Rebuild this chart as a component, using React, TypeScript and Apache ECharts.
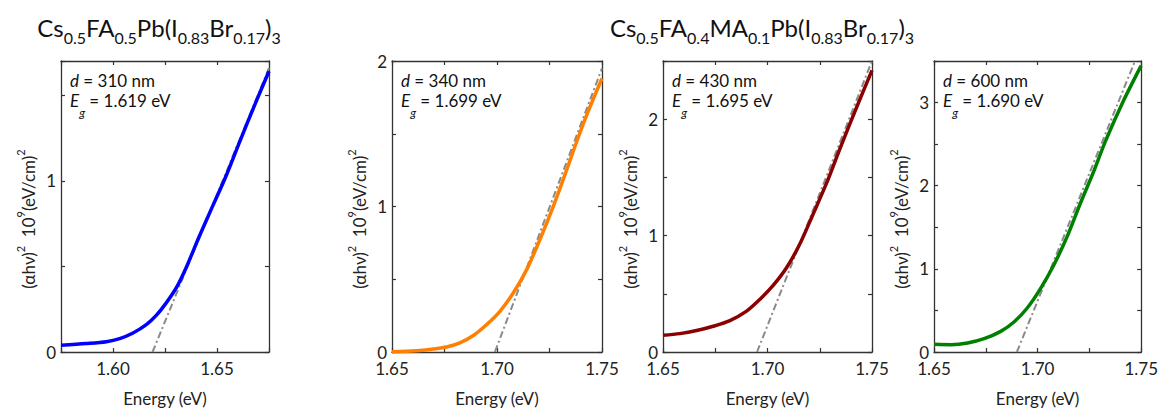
import React, { useEffect, useRef } from "react";
import * as echarts from "echarts";

const FONT = 'Lato, "DejaVu Sans", sans-serif';

// ---- data ----
const p1Energy = [1.575, 1.5872, 1.5968, 1.6032, 1.6096, 1.616, 1.6208, 1.6256, 1.6304, 1.6351, 1.6415, 1.6479, 1.6543, 1.6607, 1.6687, 1.675];
const p1Signal = [0.039, 0.049, 0.06, 0.078, 0.111, 0.16, 0.214, 0.287, 0.374, 0.491, 0.676, 0.852, 1.027, 1.222, 1.46, 1.64];
const p2Energy = [1.65, 1.6616, 1.6696, 1.676, 1.6823, 1.6887, 1.6951, 1.7014, 1.7078, 1.7142, 1.7205, 1.7269, 1.7333, 1.7378, 1.7433, 1.75];
const p2Signal = [0.002, 0.009, 0.021, 0.034, 0.062, 0.113, 0.189, 0.28, 0.407, 0.568, 0.775, 1.005, 1.257, 1.44, 1.65, 1.88];
const p3Energy = [1.65, 1.6581, 1.6661, 1.674, 1.682, 1.69, 1.6963, 1.7027, 1.7091, 1.7154, 1.7218, 1.7282, 1.7346, 1.7427, 1.75];
const p3Signal = [0.144, 0.158, 0.184, 0.221, 0.27, 0.351, 0.451, 0.572, 0.724, 0.925, 1.184, 1.448, 1.744, 2.105, 2.42];
const p4Energy = [1.65, 1.6582, 1.6662, 1.6742, 1.6822, 1.6886, 1.695, 1.7014, 1.7079, 1.7143, 1.7207, 1.7271, 1.7327, 1.7415, 1.75];
const p4Signal = [0.092, 0.088, 0.108, 0.16, 0.248, 0.361, 0.529, 0.762, 1.05, 1.391, 1.792, 2.172, 2.533, 3.025, 3.445];

const fit1Energy = [1.619, 1.675];
const fit1Signal = [0, 1.66];
const fit2Energy = [1.699, 1.75];
const fit2Signal = [0, 1.95];
const fit3Energy = [1.695, 1.75];
const fit3Signal = [0, 2.5];
const fit4Energy = [1.69, 1.747];
const fit4Signal = [0, 3.5];

const xMins = [1.575, 1.65, 1.65, 1.65];
const xMaxs = [1.675, 1.75, 1.75, 1.75];
const yMaxs = [1.7, 2, 2.5, 3.5];
const thickness = ["310", "340", "430", "600"];
const bandGaps = ["1.619", "1.699", "1.695", "1.690"];
const colors = ["#0000ff", "#ff7f00", "#8b0000", "#008000"];

const title1 = [
  ["Cs", "0.5"], ["FA", "0.5"], ["Pb(I", "0.83"], ["Br", "0.17"], [")", "3"],
];
const title2 = [
  ["Cs", "0.5"], ["FA", "0.4"], ["MA", "0.1"], ["Pb(I", "0.83"], ["Br", "0.17"], [")", "3"],
];
const xName = "Energy (eV)";

// ---- layout ----
const grids = [
  { left: 61, width: 208 },
  { left: 392, width: 210 },
  { left: 663, width: 209 },
  { left: 934, width: 208 },
];
const GTOP = 61;
const GH = 291;

function richFormula(parts: string[][]) {
  return parts.map(([n, s]) => `{n|${n}}{s|${s}}`).join("");
}

function buildOption() {
  const energies = [p1Energy, p2Energy, p3Energy, p4Energy];
  const signals = [p1Signal, p2Signal, p3Signal, p4Signal];
  const fitsE = [fit1Energy, fit2Energy, fit3Energy, fit4Energy];
  const fitsS = [fit1Signal, fit2Signal, fit3Signal, fit4Signal];

  const axisLine = { show: true, onZero: false, lineStyle: { color: "#333", width: 1.3 } };
  const axisTick = { show: true, inside: true, length: 4, lineStyle: { color: "#333", width: 1.2 } };

  const xAxes: any[] = [];
  const yAxes: any[] = [];
  const series: any[] = [];
  const graphics: any[] = [];

  grids.forEach((g, i) => {
    const xb = {
      type: "value", gridIndex: i, position: "bottom", min: xMins[i], max: xMaxs[i], interval: 0.025,
      axisLine, axisTick, splitLine: { show: false },
      axisLabel: {
        margin: 10, fontSize: 17, lineHeight: 13, color: "#222", fontFamily: FONT,
        formatter: (v: number) => {
          const k = Math.round(v * 1000);
          return k % 50 === 0 ? (k / 1000).toFixed(2) : "";
        },
      },
      name: xName, nameLocation: "middle", nameGap: 38,
      nameTextStyle: { fontSize: 17, color: "#222", fontFamily: FONT },
    };
    const xt = {
      type: "value", gridIndex: i, position: "top", min: xMins[i], max: xMaxs[i], interval: 0.025,
      axisLine, axisTick, splitLine: { show: false }, axisLabel: { show: false },
    };
    const yl = {
      type: "value", gridIndex: i, position: "left", min: 0, max: yMaxs[i], interval: 0.5,
      axisLine, axisTick, splitLine: { show: false },
      axisLabel: {
        margin: 5, fontSize: 17, lineHeight: 12, color: "#222", fontFamily: FONT,
        formatter: (v: number) => (Math.abs(v - Math.round(v)) < 1e-6 ? String(Math.round(v)) : ""),
      },
    };
    const yr = {
      type: "value", gridIndex: i, position: "right", min: 0, max: yMaxs[i], interval: 0.5,
      axisLine, axisTick, splitLine: { show: false }, axisLabel: { show: false },
    };
    xAxes.push(xb, xt);
    yAxes.push(yl, yr);

    series.push({
      type: "line", xAxisIndex: 2 * i, yAxisIndex: 2 * i, showSymbol: false, symbol: "none",
      data: fitsE[i].map((e, k) => [e, fitsS[i][k]]),
      lineStyle: { color: "#8a8a8a", width: 2, type: [7, 3, 2, 3] }, z: 1, silent: true,
    });
    series.push({
      type: "line", xAxisIndex: 2 * i, yAxisIndex: 2 * i, showSymbol: false, symbol: "none", smooth: 0.3,
      data: energies[i].map((e, k) => [e, signals[i][k]]),
      lineStyle: { color: colors[i], width: 3.5 }, z: 2, silent: true,
    });

    // annotations
    graphics.push({
      type: "text", x: g.left + 9, y: 80, silent: true,
      style: {
        text: `{i|d}{n| = ${thickness[i]} nm}`, verticalAlign: "middle", align: "left",
        rich: {
          i: { fontSize: 17, fontStyle: "italic", fontFamily: FONT, fill: "#111" },
          n: { fontSize: 17, fontFamily: FONT, fill: "#111" },
        },
      },
    });
    graphics.push({
      type: "text", x: g.left + 9, y: 92, silent: true,
      style: {
        text: `{i|E}{s|g}{n| = ${bandGaps[i]} eV}`, verticalAlign: "top", align: "left",
        rich: {
          i: { fontSize: 17, fontStyle: "italic", fontFamily: FONT, fill: "#111", lineHeight: 26, verticalAlign: "top" },
          s: { fontSize: 12, fontStyle: "italic", fontFamily: FONT, fill: "#111", lineHeight: 26, verticalAlign: "bottom" },
          n: { fontSize: 17, fontFamily: FONT, fill: "#111", lineHeight: 26, verticalAlign: "top" },
        },
      },
    });
    // y-axis name (rotated)
    graphics.push({
      type: "text", x: g.left - 35, y: 219, rotation: Math.PI / 2, silent: true,
      style: {
        text: "{n|(αhν)}{p|2}{n|  10}{p|9}{n|(eV/cm)}{p|2}", align: "center", verticalAlign: "middle",
        rich: {
          n: { fontSize: 17, fontFamily: FONT, fill: "#222", lineHeight: 22, verticalAlign: "bottom" },
          p: { fontSize: 11, fontFamily: FONT, fill: "#222", lineHeight: 14, verticalAlign: "top" },
        },
      },
    });
  });

  const titleRich = {
    n: { fontSize: 24, fontFamily: FONT, fill: "#111", lineHeight: 30, verticalAlign: "top" },
    s: { fontSize: 16, fontFamily: FONT, fill: "#111", lineHeight: 30, verticalAlign: "bottom" },
  };
  graphics.push({
    type: "text", x: 159, y: 15, silent: true,
    style: { text: richFormula(title1), align: "center", verticalAlign: "top", rich: titleRich },
  });
  graphics.push({
    type: "text", x: 762, y: 15, silent: true,
    style: { text: richFormula(title2), align: "center", verticalAlign: "top", rich: titleRich },
  });

  return {
    animation: false,
    backgroundColor: "#ffffff",
    grid: grids.map((g) => ({ left: g.left, width: g.width, top: GTOP, height: GH, containLabel: false })),
    xAxis: xAxes,
    yAxis: yAxes,
    series,
    graphic: graphics,
  };
}

export default function App() {
  const ref = useRef<HTMLDivElement>(null);
  useEffect(() => {
    if (!ref.current) return;
    const chart = echarts.init(ref.current, null, { renderer: "svg" });
    chart.setOption(buildOption() as any);
    return () => chart.dispose();
  }, []);
  return (
    <div
      ref={ref}
      style={{ position: "absolute", left: 0, top: 0, width: 1161, height: 412, background: "#fff" }}
    />
  );
}
